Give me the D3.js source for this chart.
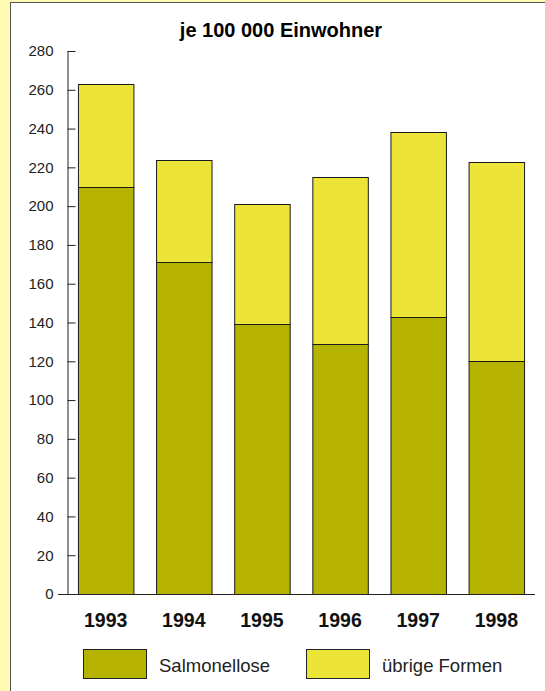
<!DOCTYPE html>
<html>
<head>
<meta charset="utf-8">
<script src="https://cdn.jsdelivr.net/npm/d3@7"></script>
<style>
  body { margin: 0; background: #fff9b3; }
  svg { display: block; font-family: "Liberation Sans", Arial, Helvetica, sans-serif; }
</style>
</head>
<body>
<svg id="chart"></svg>
<script>
// data
const years = ['1993', '1994', '1995', '1996', '1997', '1998'];
const salmonellose = [210, 171, 139, 129, 143, 120];
const uebrige = [53, 53, 62, 86, 95, 103];
const yTicks = d3.range(0, 281, 20);
const seriesNames = ['Salmonellose', 'übrige Formen'];
const colors = ['#b5b200', '#ece538'];

const width = 545, height = 691;
const svg = d3.select('#chart').attr('width', width).attr('height', height);

// yellow page + white panel (only left/top edge visible)
svg.append('rect').attr('width', width).attr('height', height).attr('fill', '#fff9b3');
svg.append('rect')
  .attr('x', 10.5).attr('y', 2.5)
  .attr('width', width + 10).attr('height', height + 10)
  .attr('fill', '#fff').attr('stroke', '#555').attr('stroke-width', 1);

const x = d3.scaleBand().domain(years).range([67, 535]).paddingInner(0.29).paddingOuter(0.14);
const y = d3.scaleLinear().domain([0, 280]).range([594, 51]);

const table = years.map((yr, i) => ({ year: yr, a: salmonellose[i], b: uebrige[i] }));
const stacked = d3.stack().keys(['a', 'b'])(table);

svg.append('text')
  .attr('x', 281).attr('y', 37)
  .attr('text-anchor', 'middle')
  .attr('font-size', 20).attr('font-weight', 'bold')
  .text('je 100 000 Einwohner');

// bars
svg.append('g').selectAll('g')
  .data(stacked)
  .join('g')
  .attr('fill', (d, i) => colors[i])
  .selectAll('rect')
  .data(d => d)
  .join('rect')
  .attr('x', d => x(d.data.year) + 0.5)
  .attr('y', d => Math.round(y(d[1])) + 0.5)
  .attr('width', x.bandwidth())
  .attr('height', d => Math.round(y(d[0])) - Math.round(y(d[1])))
  .attr('stroke', '#1a1a1a')
  .attr('stroke-width', 1);

// y axis
const yAxis = svg.append('g')
  .attr('transform', 'translate(67.5,0)')
  .call(d3.axisLeft(y).tickValues(yTicks).tickSize(9).tickPadding(5).tickSizeOuter(0));
yAxis.select('.domain').attr('stroke', '#222');
yAxis.selectAll('.tick line').attr('x2', 8).attr('stroke', '#222');
yAxis.selectAll('.tick text')
  .attr('font-size', 15)
  .attr('font-family', '"Liberation Sans", Arial, sans-serif')
  .attr('fill', '#222');

// baseline
svg.append('line')
  .attr('x1', 58).attr('x2', 535)
  .attr('y1', y(0) + 0.5).attr('y2', y(0) + 0.5)
  .attr('stroke', '#222');

// year labels
svg.append('g').selectAll('text')
  .data(years)
  .join('text')
  .attr('x', d => x(d) + x.bandwidth() / 2)
  .attr('y', 627)
  .attr('text-anchor', 'middle')
  .attr('font-size', 19.5).attr('font-weight', 'bold')
  .attr('fill', '#111')
  .text(d => d);

// legend
const legend = svg.append('g').selectAll('g')
  .data(seriesNames)
  .join('g')
  .attr('transform', (d, i) => `translate(${[83, 306][i]},649)`);
legend.append('rect')
  .attr('x', 0.5).attr('y', 0.5)
  .attr('width', 63).attr('height', 29)
  .attr('fill', (d, i) => colors[i])
  .attr('stroke', '#222');
legend.append('text')
  .attr('x', 76).attr('y', 23)
  .attr('font-size', 18.5)
  .attr('fill', '#222')
  .text(d => d);
</script>
</body>
</html>
